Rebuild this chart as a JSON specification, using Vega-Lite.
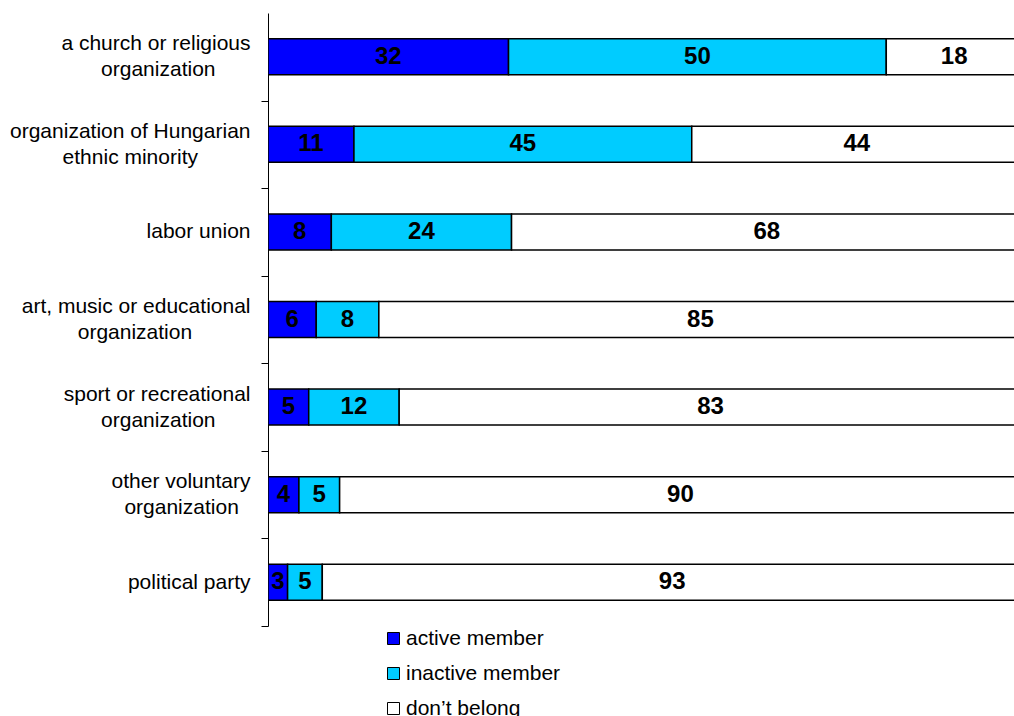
{
  "$schema": "https://vega.github.io/schema/vega-lite/v6.json",
  "width": 746,
  "height": 613,
  "autosize": {"type": "none"},
  "padding": {"left": 268, "top": 13, "right": 0, "bottom": 90},
  "background": "white",
  "config": {"view": {"stroke": null}, "font": "Liberation Sans"},
  "data": {
    "values": [
      {"org": "a church or religious organization", "status": "active member", "value": 31.9},
      {"org": "a church or religious organization", "status": "inactive member", "value": 50.1},
      {"org": "a church or religious organization", "status": "don’t belong", "value": 18.0},
      {"org": "organization of Hungarian ethnic minority", "status": "active member", "value": 11.4},
      {"org": "organization of Hungarian ethnic minority", "status": "inactive member", "value": 44.8},
      {"org": "organization of Hungarian ethnic minority", "status": "don’t belong", "value": 43.8},
      {"org": "labor union", "status": "active member", "value": 8.4},
      {"org": "labor union", "status": "inactive member", "value": 23.9},
      {"org": "labor union", "status": "don’t belong", "value": 67.7},
      {"org": "art, music or educational organization", "status": "active member", "value": 6.4},
      {"org": "art, music or educational organization", "status": "inactive member", "value": 8.3},
      {"org": "art, music or educational organization", "status": "don’t belong", "value": 85.3},
      {"org": "sport or recreational organization", "status": "active member", "value": 5.4},
      {"org": "sport or recreational organization", "status": "inactive member", "value": 12.0},
      {"org": "sport or recreational organization", "status": "don’t belong", "value": 82.6},
      {"org": "other voluntary organization", "status": "active member", "value": 4.1},
      {"org": "other voluntary organization", "status": "inactive member", "value": 5.4},
      {"org": "other voluntary organization", "status": "don’t belong", "value": 90.4},
      {"org": "political party", "status": "active member", "value": 2.6},
      {"org": "political party", "status": "inactive member", "value": 4.6},
      {"org": "political party", "status": "don’t belong", "value": 92.8}
    ]
  },
  "transform": [
    {"calculate": "indexof(['active member','inactive member','don’t belong'], datum.status)", "as": "ord"},
    {"stack": "value", "groupby": ["org"], "sort": [{"field": "ord", "order": "ascending"}], "as": ["x0", "x1"]},
    {"calculate": "(datum.x0 + datum.x1) / 2", "as": "xm"}
  ],
  "encoding": {
    "y": {
      "field": "org",
      "type": "nominal",
      "sort": [
        "a church or religious organization",
        "organization of Hungarian ethnic minority",
        "labor union",
        "art, music or educational organization",
        "sport or recreational organization",
        "other voluntary organization",
        "political party"
      ],
      "scale": {"paddingInner": 0.589, "paddingOuter": 0.2945},
      "axis": {
        "title": null,
        "labelExpr": "({'a church or religious organization': ['a church or religious', '\u200b', 'organization\u00a0\u00a0\u00a0\u00a0\u00a0\u00a0\u200b'], 'organization of Hungarian ethnic minority': ['organization of Hungarian', '\u200b', 'ethnic minority\u00a0\u00a0\u00a0\u00a0\u00a0\u00a0\u00a0\u00a0\u00a0\u200b'], 'labor union': ['\u200b', 'labor union'], 'art, music or educational organization': ['art, music or educational', '\u200b', 'organization\u00a0\u00a0\u00a0\u00a0\u00a0\u00a0\u00a0\u00a0\u00a0\u00a0\u200b'], 'sport or recreational organization': ['sport or recreational', '\u200b', 'organization\u00a0\u00a0\u00a0\u00a0\u00a0\u00a0\u200b'], 'other voluntary organization': ['other voluntary', '\u200b', 'organization\u00a0\u00a0\u200b'], 'political party': ['\u200b', 'political party']})[datum.value]",
        "labelFontSize": 21,
        "labelColor": "black",
        "labelLineHeight": 13,
        "tickOffset": 43.79,
        "labelOffset": -56.79,
        "labelLimit": 320,
        "labelPadding": 11,
        "labelAlign": "right",
        "labelBaseline": "middle",
        "ticks": true,
        "tickSize": 7,
        "tickColor": "black",
        "tickWidth": 1,
        "domainColor": "black",
        "domainWidth": 1,
        "grid": false
      }
    }
  },
  "layer": [
    {
      "mark": {"type": "bar", "stroke": "black", "strokeWidth": 1.5, "clip": true},
      "encoding": {
        "x": {"field": "x0", "type": "quantitative", "scale": {"domain": [0, 98.94], "nice": false, "zero": true}, "axis": null},
        "x2": {"field": "x1"},
        "color": {
          "field": "status",
          "type": "nominal",
          "scale": {"domain": ["active member", "inactive member", "don’t belong"], "range": ["#0000FF", "#00CCFF", "#FFFFFF"]},
          "legend": {
            "title": null,
            "orient": "none",
            "legendX": 115,
            "legendY": 615,
            "direction": "vertical",
            "symbolType": "square",
            "symbolSize": 144,
            "symbolStrokeColor": "black",
            "symbolStrokeWidth": 1,
            "labelFontSize": 21,
            "labelColor": "black",
            "labelOffset": 2,
            "rowPadding": 13
          }
        }
      }
    },
    {
      "mark": {"type": "text", "fontWeight": "bold", "fontSize": 24, "color": "black", "clip": true},
      "encoding": {
        "x": {"field": "xm", "type": "quantitative"},
        "text": {"field": "value", "type": "quantitative", "format": ".0f"}
      }
    }
  ]
}
